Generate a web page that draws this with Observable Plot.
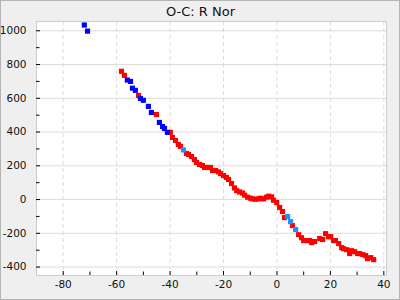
<!DOCTYPE html>
<html>
<head>
<meta charset="utf-8">
<script src="https://cdn.jsdelivr.net/npm/d3@7"></script>
<script src="https://cdn.jsdelivr.net/npm/@observablehq/plot@0.6"></script>
<style>
  html, body { margin: 0; padding: 0; background: #efefef; }
  #chart svg { display: block; outline: 1px solid #b4b4b4; outline-offset: -1px; }
</style>
</head>
<body>
<div id="chart"></div>
<script>
const title = "O-C: R Nor";

const blueX = [-72.1, -70.9, -56.0, -54.8, -54.1, -53.0, -51.1, -50.0, -48.1, -47.0, -44.0, -42.8, -42.1, -41.0];
const blueY = [1034, 998, 708, 700, 660, 647, 599, 588, 552, 516, 457, 433, 421, 398];

const lightX = [-35.0, 4.0, 5.1, 7.0];
const lightY = [294, -101, -131, -178];

const redX = [-58.2, -57.1, -51.8, -45.1, -39.9, -39.1, -38.0, -36.9, -36.1, -33.9, -33.1, -32.0, -30.9, -30.1,
  -29.0, -27.9, -27.1, -26.0, -24.9, -24.1, -23.0, -21.9, -21.1, -20.0, -18.9, -18.1, -17.0, -15.9, -15.1,
  -14.0, -12.9, -12.1, -11.0, -9.9, -9.1, -8.0, -6.9, -6.1, -5.0, -3.9, -3.1, -2.0, -1.3, -0.1, 1.0, 2.1,
  2.8, 5.8, 8.1, 9.2, 10.0, 11.1, 12.2, 13.0, 14.1, 16.0, 17.1, 18.2, 19.3, 20.1, 21.2, 21.9, 23.1, 24.2,
  24.9, 26.1, 27.2, 27.9, 29.1, 30.2, 30.9, 32.1, 33.2, 33.9, 35.1, 36.2];
const redY = [760, 736, 617, 504, 398, 368, 350, 326, 315, 273, 267, 255, 237, 220,
  208, 202, 190, 190, 190, 172, 172, 164, 154, 142, 131, 119, 95, 69, 53,
  45, 39, 26, 14, 8, 4, 2, 4, 8, 4, 14, 20, 16, -4, -18, -47, -71,
  -107, -154, -208, -226, -243, -243, -243, -255, -249, -231, -237, -202, -220, -220, -243, -243, -261, -285,
  -291, -297, -320, -303, -309, -320, -320, -326, -332, -350, -344, -356];

const xMajor = [-80, -60, -40, -20, 0, 20, 40];
const xMinor = [-70, -50, -30, -10, 10, 30];
const yMajor = [-400, -200, 0, 200, 400, 600, 800, 1000];
const yMinor = [-300, -100, 100, 300, 500, 700, 900];

const toPts = (xs, ys) => xs.map((x, i) => ({x, y: ys[i]}));
const red = toPts(redX, redY);
const blue = toPts(blueX, blueY);
const light = toPts(lightX, lightY);

const W = 400, H = 300, mL = 36, mR = 14, mT = 21, mB = 25;
const pw = W - mL - mR, ph = H - mT - mB;

const chart = Plot.plot({
  width: W, height: H,
  marginLeft: mL, marginRight: mR, marginTop: mT, marginBottom: mB,
  style: {background: "#efefef", fontFamily: "DejaVu Sans, sans-serif", fontSize: "10.5px", color: "#111"},
  x: {domain: [-90, 41]},
  y: {domain: [-450, 1055]},
  marks: [
    Plot.frame({fill: "white", stroke: "none"}),
    Plot.gridX(xMajor, {stroke: "#dcdcdc", strokeOpacity: 1, strokeDasharray: "4,3"}),
    Plot.gridY(yMajor, {stroke: "#dcdcdc", strokeOpacity: 1}),
    Plot.frame({stroke: "#cccccc"}),
    Plot.tickX(xMajor, {x: d => d, insetTop: ph - 4, stroke: "#000"}),
    Plot.tickX(xMinor, {x: d => d, insetTop: ph - 3.5, stroke: "#000"}),
    Plot.tickY(yMajor, {y: d => d, insetRight: pw - 4, stroke: "#000"}),
    Plot.tickY(yMinor, {y: d => d, insetRight: pw - 3.5, stroke: "#000"}),
    Plot.axisX(xMajor, {tickSize: 0, tickPadding: 5, tickFormat: d => String(d), label: null}),
    Plot.axisY(yMajor, {tickSize: 0, tickPadding: 10, tickFormat: d => String(d), label: null}),
    Plot.dot(red, {x: "x", y: "y", symbol: "square", r: 2.9, fill: "#ff0000", stroke: "none"}),
    Plot.dot(blue, {x: "x", y: "y", symbol: "square", r: 2.9, fill: "#0000ff", stroke: "none"}),
    Plot.dot(light, {x: "x", y: "y", symbol: "square", r: 2.9, fill: "#1e90ff", stroke: "none"}),
    Plot.text([title], {frameAnchor: "top", lineAnchor: "middle", dy: -10, dx: -11, fontSize: 13, fill: "#111"})
  ]
});
document.getElementById("chart").append(chart);
</script>
</body>
</html>
